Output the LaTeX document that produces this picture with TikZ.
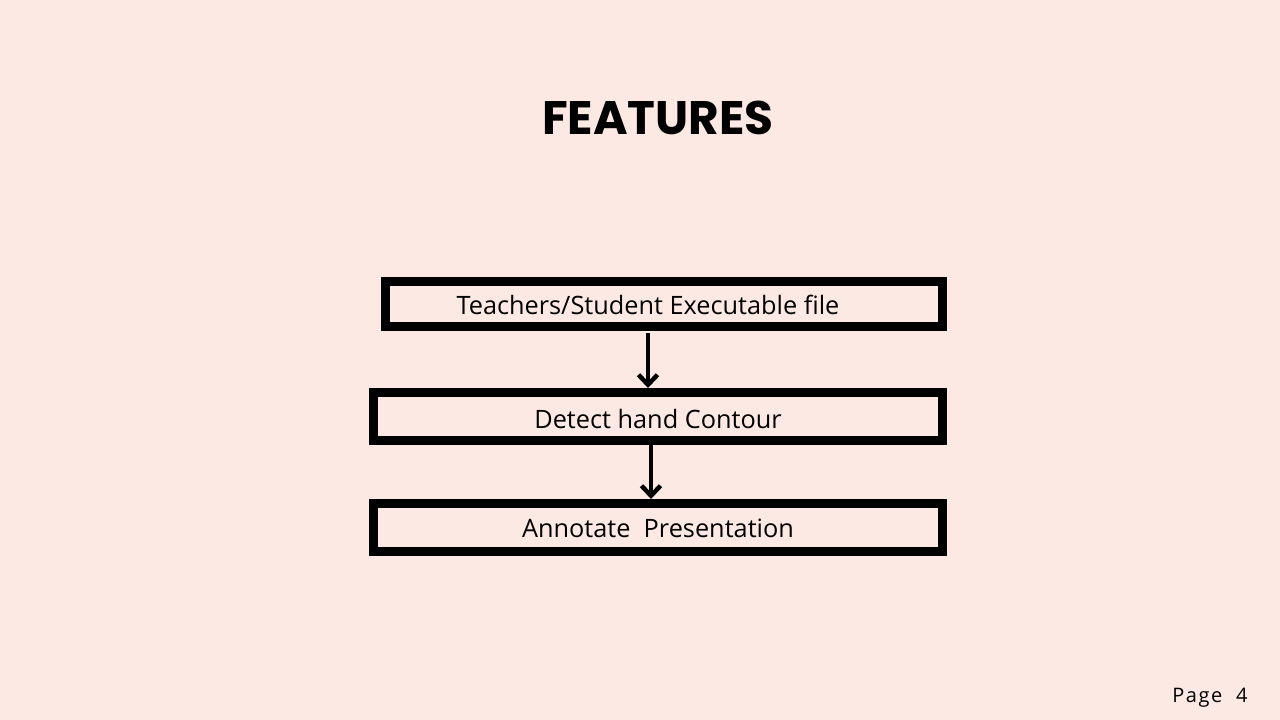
\documentclass[tikz,border=0pt]{standalone}
\usepackage{fontspec}
\usepackage{tikz}
\usetikzlibrary{arrows.meta}

\setmainfont{Open Sans}
\newfontfamily\titlefont{Poppins}
\definecolor{slidebg}{RGB}{253,233,227}

\tikzset{
  featbox/.style={draw=black, line width=9pt, fill=slidebg, inner sep=0pt,
    font=\fontsize{25.3}{30}\selectfont},
  flowarrow/.style={line width=4pt, -{Straight Barb[length=10pt,width=19pt,line width=4.5pt]}}
}

\begin{document}
\begin{tikzpicture}[x=1pt, y=-1pt]
    \fill[slidebg] (0, 0) rectangle (1280, 720);
    \useasboundingbox (0, 0) rectangle (1280, 720);

    % title and page number
    \node (title) at (658, 118) {\titlefont\bfseries\fontsize{47}{56}\selectfont FEATURES};
    \node[anchor=east] (page) at (1251, 698)
      {\addfontfeatures{LetterSpace=8}\fontsize{20}{24}\selectfont Page\ \ 4};

    % the three steps
    \begin{scope}
      \node[featbox, minimum width=557pt, minimum height=45pt] (exec) at (664, 304)
        {};
      \node[font=\fontsize{25.3}{30}\selectfont] (exectext) at (648, 304.5)
        {Teachers/Student Executable file};
      \node[featbox, minimum width=569pt, minimum height=48pt] (detect) at (658, 416.5)
        {\raisebox{-2.5pt}[\height][\depth]{Detect hand Contour}};
      \node[featbox, minimum width=569pt, minimum height=48pt] (annotate) at (658, 527.5)
        {\raisebox{-1pt}[\height][\depth]{Annotate\ \ Presentation}};
    \end{scope}

    \draw[flowarrow] ([xshift=-16pt, yshift=-2pt]exec.south) -- ([xshift=-16pt]exec.south |- detect.north);
    \draw[flowarrow] ([xshift=-7pt]detect.south) -- ([xshift=-7pt]detect.south |- annotate.north);
  \end{tikzpicture}
\end{document}
